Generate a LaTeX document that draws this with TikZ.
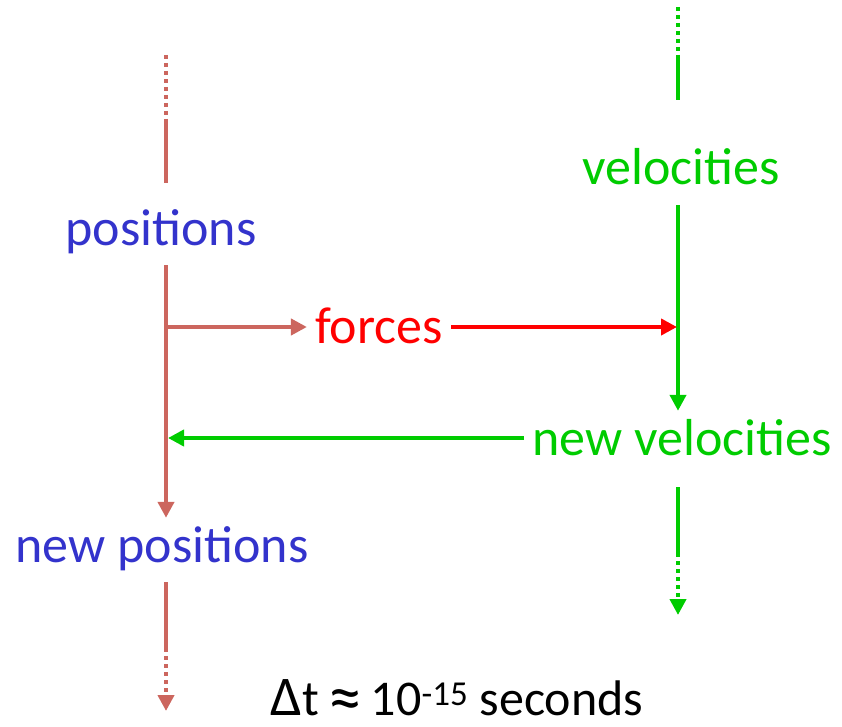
\documentclass[tikz,border=0pt]{standalone}
\usepackage{fontspec}
\setmainfont{Carlito}
\usetikzlibrary{arrows.meta}
\definecolor{posred}{RGB}{204,102,94}
\definecolor{txtblue}{RGB}{51,51,204}
\definecolor{velgreen}{RGB}{0,204,0}
\definecolor{frcred}{RGB}{255,0,0}
\begin{document}
\begin{tikzpicture}[x=1pt, y=-1pt,
    txt/.style={inner sep=8pt, text height=36pt, text depth=12pt, anchor=base, font=\fontsize{52}{60}\selectfont},
    posline/.style={posred, line width=4pt},
    velline/.style={velgreen, line width=4pt},
    headed/.style={-{Triangle[length=16pt,width=16pt]}},
    dots/.style={dash pattern=on 4pt off 4pt},
]
\useasboundingbox (0,0) rectangle (842,727);

\node[txt, txtblue] (pos) at (161,245) {positions};
\node[txt, velgreen] (vel) at (681,185) {velocities};
\node[txt, frcred] (frc) at (379,343) {forces};
\node[txt, velgreen] (nvel) at (682,455) {new velocities};
\node[txt, txtblue] (npos) at (162,562) {new positions};
\node[anchor=base, inner sep=0pt, text depth=0pt, font=\fontsize{50}{54}\selectfont] (dt) at (457,715)
  {{\fontsize{56}{56}\selectfont Δ}t\hspace{9pt}\raisebox{-5pt}{\fontsize{68}{68}\selectfont ≈}\hspace{9pt}10\textsuperscript{-15} seconds};

\coordinate (ptop) at (166,55);
\coordinate (pdot) at (166,119);
\coordinate (pfork) at (166,327);
\coordinate (pnew) at (168,438);
\coordinate (pdash) at (166,648);
\coordinate (pend) at (166,711);
\coordinate (vtop) at (678,7);
\coordinate (vdot) at (678,55);
\coordinate (vhit) at (677,327);
\coordinate (vdash) at (678,553);
\coordinate (vend) at (678,615);

% positions line
\draw[posline, dots] (ptop) -- (pdot);
\draw[posline, shorten >=18pt] (pdot) -- (pos.north -| pdot);
\draw[posline, headed] (pos.south -| pdot) -- (npos.north -| pdot);
\draw[posline] (npos.south -| pdot) -- (pdash);
\draw[posline, dots, headed] (pdash) -- (pend);

% velocities line
\draw[velline, dots] (vtop) -- (vdot);
\draw[velline, shorten >=41pt] (vdot) -- (vel.north -| vdot);
\draw[velline, headed] (vel.south -| vdot) -- (nvel.north -| vdot);
\draw[velline, shorten <=12pt] (nvel.south -| vdot) -- (vdash);
\draw[velline, dots, headed] (vdash) -- (vend);

% forces and update
\draw[posline, headed] (pfork) -- (frc.west |- pfork);
\draw[frcred, line width=4pt, headed] (frc.east |- vhit) -- (vhit);
\draw[velline, headed] (nvel.west |- pnew) -- (pnew);
\end{tikzpicture}
\end{document}
